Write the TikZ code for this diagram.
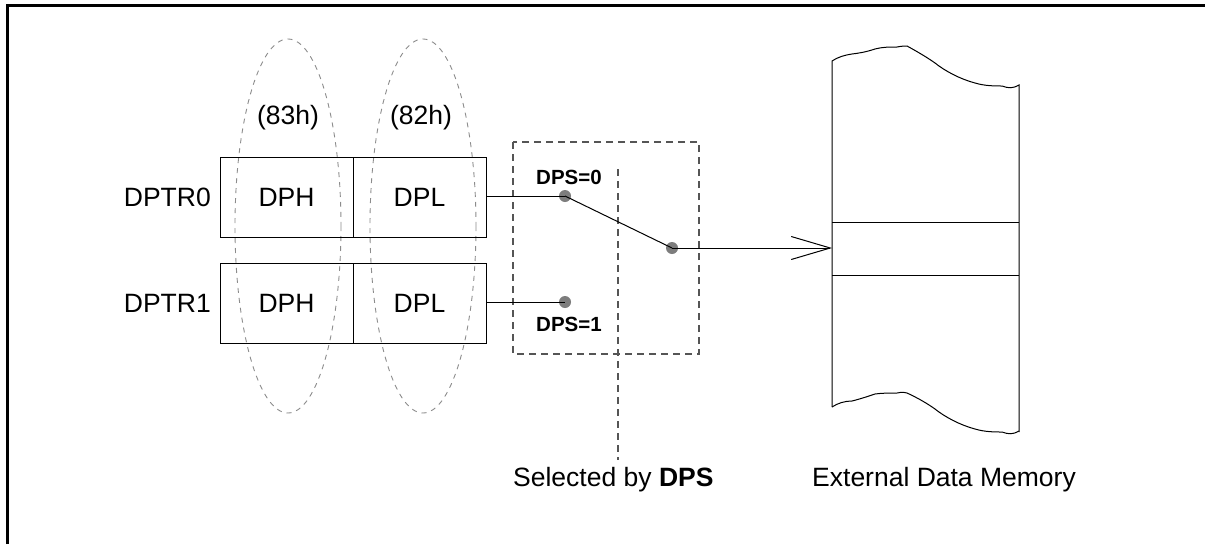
\documentclass[tikz,border=0pt]{standalone}
\usepackage{fontspec}
\setmainfont{Liberation Sans}
\usetikzlibrary{arrows.meta}
\definecolor{ellgray}{RGB}{140,140,140}
\definecolor{boxgray}{RGB}{85,85,85}
\definecolor{dotgray}{RGB}{125,125,125}
\begin{document}
\begin{tikzpicture}[x=1pt,y=-1pt,
  reg/.style={draw,line width=1pt,minimum width=133pt,minimum height=80pt,inner sep=0pt,font=\fontsize{26.5}{30}\selectfont},
  lbl/.style={inner sep=0pt,font=\fontsize{26.5}{30}\selectfont},
  dpslbl/.style={inner sep=0pt,font=\fontsize{20.5}{24}\selectfont\bfseries},
  sdot/.style={circle,fill=dotgray,inner sep=0pt,minimum size=12pt},
  wire/.style={line width=1pt},
  elldash/.style={draw=ellgray,line width=0.9pt,dash pattern=on 5pt off 5pt},
  seldash/.style={draw=boxgray,line width=1.3pt,dash pattern=on 7pt off 5pt},
  memline/.style={line width=1pt}]
\useasboundingbox (0,0) rectangle (1205,544);
\fill[white] (0,0) rectangle (1205,544);
% frame
\draw[line width=2.2pt] (7.5,544) -- (7.5,5.5) -- (1205,5.5);

% ellipses
\draw[elldash] (288,226) ellipse [x radius=53, y radius=187];
\draw[elldash] (423,226) ellipse [x radius=53, y radius=187];
\node[lbl] (h83) at (288,118) {(83h)};
\node[lbl] (h82) at (421,118) {(82h)};

% registers
\node[reg] (dph0) at (286.5,197) {DPH};
\node[reg] (dpl0) at (419.5,197) {DPL};
\node[reg] (dph1) at (286.5,303.5) {DPH};
\node[reg] (dpl1) at (419.5,303.5) {DPL};
\node[lbl,anchor=east] (r0) at (211,197) {DPTR0};
\node[lbl,anchor=east] (r1) at (211,303.5) {DPTR1};

% selection box
\draw[seldash] (513,142) rectangle (699,354);
\draw[seldash] (618,169) -- (618,460);

% switch
\node[sdot] (d0) at (565,196) {};
\node[sdot] (d1) at (565,302) {};
\node[sdot] (sw) at (672,248) {};
\node[dpslbl] (l0) at (569,177) {DPS=0};
\node[dpslbl] (l1) at (569,324) {DPS=1};
\draw[wire] (dpl0.east |- d0) -- (d0.center);
\draw[wire] (dpl1.east |- d1) -- (d1.center);
\draw[wire] (d0.center) -- (sw.center);

% memory
\coordinate (memin) at (832,248);
\draw[memline] (832,407) -- (832,61)
  .. controls (838,57) and (845,55) .. (852,54)
  .. controls (860,53) and (866,52) .. (875,49)
  .. controls (882,47) and (890,47) .. (897,47)
  .. controls (902,46) and (905,46) .. (907,46)
  .. controls (918,52) and (928,58) .. (935,63)
  .. controls (945,71) and (960,79) .. (975,83)
  .. controls (985,86) and (995,86) .. (1002,86)
  .. controls (1008,88) and (1012,89) .. (1019,85) -- (1019,432);
\draw[memline] (832,407)
  .. controls (838,403) and (845,401) .. (852,401)
  .. controls (860,399) and (866,397) .. (875,394)
  .. controls (882,393) and (890,393) .. (897,393)
  .. controls (902,392) and (905,392) .. (907,393)
  .. controls (918,398) and (928,404) .. (935,409)
  .. controls (945,417) and (960,425) .. (975,429)
  .. controls (985,432) and (995,432) .. (1002,432)
  .. controls (1008,434) and (1012,435) .. (1019,431);
\draw[memline] (832,222) -- (1019,222);
\draw[memline] (832,275) -- (1019,275);
\draw[wire,-{Straight Barb[length=39pt,width=23pt,line width=1pt]}] (sw.center) -- (memin);

% captions
\node[lbl,anchor=base west] (sel) at (513,486) {Selected by \textbf{DPS}};
\node[lbl,anchor=base west] (ext) at (812,486) {External Data Memory};
\end{tikzpicture}
\end{document}
